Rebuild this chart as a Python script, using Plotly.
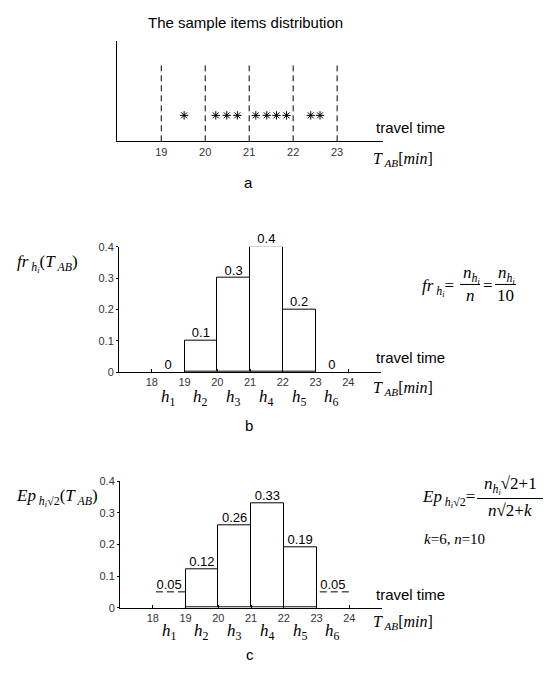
import plotly.graph_objects as go

# ---------------- data ----------------
sample_times = [19.52, 20.24, 20.49, 20.73, 21.15, 21.40, 21.62, 21.85, 22.40, 22.61]
sample_level = [0.26] * len(sample_times)
bin_edges_a = [19, 20, 21, 22, 23]
dash_height_a = 0.76

interval_centers = [18.5, 19.5, 20.5, 21.5, 22.5, 23.5]
interval_names = ["h<sub>1</sub>", "h<sub>2</sub>", "h<sub>3</sub>", "h<sub>4</sub>", "h<sub>5</sub>", "h<sub>6</sub>"]
fr_values = [0, 0.1, 0.3, 0.4, 0.2, 0]
fr_labels = ["0", "0.1", "0.3", "0.4", "0.2", "0"]
ep_values = [0.05, 0.12, 0.26, 0.33, 0.19, 0.05]
ep_labels = ["0.05", "0.12", "0.26", "0.33", "0.19", "0.05"]
ep_empty = [True, False, False, False, False, True]

x_ticks_bc = [18, 19, 20, 21, 22, 23, 24]
y_ticks_bc = [0, 0.1, 0.2, 0.3, 0.4]
y_ticktext = ["0", "0.1", "0.2", "0.3", "0.4"]

# page has an 8px body margin; size the figure to fit inside the window
OFF = 8
W, H = 536, 657
def px(x): return (x - OFF) / W
def py(y): return 1 - (y - OFF) / H

SANS = "Liberation Sans, Arial"
SERIF = "Liberation Serif, Times New Roman"

fig = go.Figure()

# ---- panel a ----
for e in bin_edges_a:
    fig.add_trace(go.Scatter(x=[e, e], y=[0, dash_height_a], mode="lines",
                             line=dict(color="black", width=1, dash="6px,4px"),
                             xaxis="x", yaxis="y", showlegend=False, hoverinfo="skip"))
fig.add_trace(go.Scatter(x=sample_times, y=sample_level, mode="markers",
                         marker=dict(symbol="asterisk-open", size=7, color="black",
                                     line=dict(color="black", width=1)),
                         xaxis="x", yaxis="y", showlegend=False))

# ---- panel b ----
bx = [c for c, v in zip(interval_centers, fr_values) if v > 0]
by = [v for v in fr_values if v > 0]
fig.add_trace(go.Bar(x=bx, y=by, width=1, marker=dict(color="white", line=dict(color="black", width=1)),
                     xaxis="x2", yaxis="y2", showlegend=False))
fig.add_trace(go.Scatter(x=interval_centers, y=fr_values, mode="text", text=fr_labels,
                         textposition="top center", textfont=dict(family=SANS, size=13, color="black"),
                         xaxis="x2", yaxis="y2", showlegend=False, cliponaxis=False))

# ---- panel c ----
cx = [c for c, v, e in zip(interval_centers, ep_values, ep_empty) if not e]
cy = [v for v, e in zip(ep_values, ep_empty) if not e]
fig.add_trace(go.Bar(x=cx, y=cy, width=1, marker=dict(color="white", line=dict(color="black", width=1)),
                     xaxis="x3", yaxis="y3", showlegend=False))
for c, v, e in zip(interval_centers, ep_values, ep_empty):
    if e:
        fig.add_trace(go.Scatter(x=[c - 0.4, c + 0.5], y=[v, v], mode="lines",
                                 line=dict(color="black", width=1, dash="7px,4px"),
                                 xaxis="x3", yaxis="y3", showlegend=False, hoverinfo="skip"))
fig.add_trace(go.Scatter(x=interval_centers, y=ep_values, mode="text", text=ep_labels,
                         textposition="top center", textfont=dict(family=SANS, size=13, color="black"),
                         xaxis="x3", yaxis="y3", showlegend=False, cliponaxis=False))

axis_common = dict(showline=True, linecolor="black", linewidth=1, showgrid=False, zeroline=False,
                   tickfont=dict(family=SANS, size=11, color="#333"), fixedrange=True)

fig.update_layout(
    width=W, height=H, margin=dict(l=0, r=0, t=0, b=0),
    paper_bgcolor="white", plot_bgcolor="white", bargap=0,
    xaxis=dict(axis_common, domain=[px(117.3), px(383.3)], range=[18, 24.05], anchor="y",
               tickvals=bin_edges_a, ticks=""),
    yaxis=dict(axis_common, domain=[py(137.7), py(36)], range=[0, 1], anchor="x",
               showticklabels=False, ticks=""),
    xaxis2=dict(axis_common, domain=[px(119), px(381)], range=[17, 25], anchor="y2",
                tickvals=x_ticks_bc, ticks="inside", ticklen=3, tickcolor="black"),
    yaxis2=dict(axis_common, domain=[py(372.7), py(245)], range=[0, 0.4], anchor="x2",
                tickvals=y_ticks_bc, ticktext=y_ticktext, ticks="outside", ticklen=2, tickcolor="black"),
    xaxis3=dict(axis_common, domain=[px(120), px(382)], range=[17, 25], anchor="y3",
                tickvals=x_ticks_bc, ticks="inside", ticklen=3, tickcolor="black"),
    yaxis3=dict(axis_common, domain=[py(612.7), py(484)], range=[0, 0.4], anchor="x3",
                tickvals=y_ticks_bc, ticktext=y_ticktext, ticks="outside", ticklen=2, tickcolor="black"),
)

ann = []
def A(text, x, y, size=15, family=SANS, xanchor="center", xref="paper", yref="paper"):
    ann.append(dict(text=text, x=x, y=y, xref=xref, yref=yref, showarrow=False,
                    xanchor=xanchor, yanchor="middle", font=dict(family=family, size=size, color="black")))

# titles / panel letters
A("The sample items distribution", px(245), py(17), size=15)
A("a", px(248), py(180), size=15)
A("b", px(249), py(427), size=15)
A("c", px(250), py(660), size=15)

# travel time and T_AB labels
for ty, tt in [(124, 156), (358, 389), (599, 628)]:
    A("travel time", px(374), py(ty), size=15, xanchor="left")
    A("<i>T</i><sub><i> AB</i></sub>[<i>min</i>]", px(371), py(tt), size=16, family=SERIF, xanchor="left")

# interval labels
for xr, yy in [("x2", 399), ("x3", 637)]:
    for c, n in zip(interval_centers, interval_names):
        ann.append(dict(text="<i>" + n.split("<")[0] + "</i>" + n[1:], x=c, y=py(yy), xref=xr, yref="paper",
                        showarrow=False, xanchor="center", yanchor="middle",
                        font=dict(family=SERIF, size=17, color="black")))

# y labels
A("<i>fr</i><sub><i> h<sub>i</sub></i></sub>(<i>T</i><sub><i> AB</i></sub>)", px(15), py(262), size=17,
  family=SERIF, xanchor="left")
A("<i>Ep</i><sub><i> h<sub>i</sub></i>√2</sub>(<i>T</i><sub><i> AB</i></sub>)", px(14), py(500), size=17,
  family=SERIF, xanchor="left")

# formula b
A("<i>fr</i><sub><i> h<sub>i</sub></i></sub>=", px(420), py(287), size=17, family=SERIF, xanchor="left")
A("<i>n</i><sub><i>h<sub>i</sub></i></sub>", px(471), py(273), size=17, family=SERIF)
A("<i>n</i>", px(470), py(295), size=17, family=SERIF)
A("=", px(488), py(285), size=17, family=SERIF)
A("<i>n</i><sub><i>h<sub>i</sub></i></sub>", px(506), py(273), size=17, family=SERIF)
A("10", px(505), py(295), size=17, family=SERIF)

# formula c
A("<i>Ep</i><sub><i> h<sub>i</sub></i>√2</sub>=", px(420), py(502), size=17, family=SERIF, xanchor="left")
A("<i>n</i><sub><i>h<sub>i</sub></i></sub>√2+1", px(510), py(488), size=17, family=SERIF)
A("<i>n</i>√2+<i>k</i>", px(510), py(514), size=17, family=SERIF)
A("<i>k</i>=6, <i>n</i>=10", px(422), py(543), size=15, family=SERIF, xanchor="left")

fig.update_layout(annotations=ann)

shapes = [
    dict(type="line", xref="paper", yref="paper", x0=px(460), x1=px(480), y0=py(283.5), y1=py(283.5),
         line=dict(color="black", width=1)),
    dict(type="line", xref="paper", yref="paper", x0=px(495), x1=px(516), y0=py(283.5), y1=py(283.5),
         line=dict(color="black", width=1)),
    dict(type="line", xref="paper", yref="paper", x0=px(477), x1=px(543), y0=py(501.5), y1=py(501.5),
         line=dict(color="black", width=1)),
]
fig.update_layout(shapes=shapes)

fig.write_html("out.html")
